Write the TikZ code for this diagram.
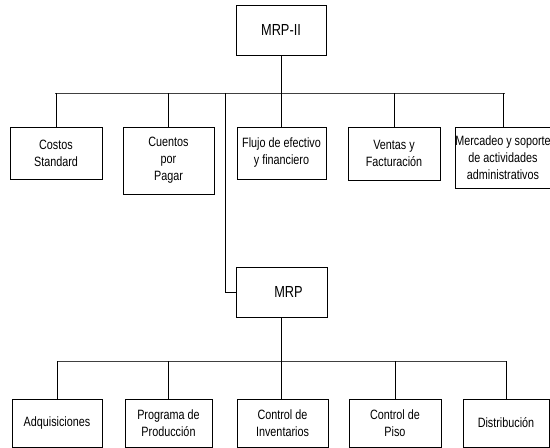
\documentclass[tikz,border=0pt]{standalone}
\usepackage{fontspec}
\setmainfont{Liberation Sans}[FakeStretch=0.8]
\begin{document}
\begin{tikzpicture}[x=1pt,y=-1pt,
  box/.style={draw=black, line width=1pt, inner sep=0pt, align=center,
    font=\fontsize{13.5}{17}\selectfont},
  bigbox/.style={box, font=\fontsize{16}{18}\selectfont},
  conn/.style={draw=black, line width=1pt},
  bus/.style={draw=black!75, line width=1pt}]
\useasboundingbox (0,0) rectangle (550,448);
\fill[white] (0,0) rectangle (550,448);
% top
\node[bigbox, minimum width=90pt, minimum height=50pt] (mrp2) at (281,30) {MRP-II};
% second row
\node[box, minimum width=92pt, minimum height=52pt] (costos) at (56,153) {Costos\\Standard};
\node[box, minimum width=91pt, minimum height=67pt] (cuentos) at (168.5,160.5) {Cuentos\\por\\Pagar};
\node[box, minimum width=89pt, minimum height=52pt] (flujo) at (281.5,153) {Flujo de efectivo\\y financiero};
\node[box, minimum width=92pt, minimum height=53pt] (ventas) at (394,153.5) {Ventas y\\Facturación};
\node[box, minimum width=92pt, minimum height=61pt] (merc) at (503,157.5) {Mercadeo y soporte\\de actividades\\administrativos};
% MRP
\node[bigbox, minimum width=91pt, minimum height=50pt] (mrp) at (281.5,292) {\hspace*{14pt}MRP};
% bottom row
\node[box, minimum width=90pt, minimum height=48pt] (adq) at (57,423) {Adquisiciones};
\node[box, minimum width=87pt, minimum height=48pt] (prog) at (168.5,423) {Programa de\\Producción};
\node[box, minimum width=91pt, minimum height=48pt] (inv) at (282.5,423) {Control de\\Inventarios};
\node[box, minimum width=92pt, minimum height=48pt] (piso) at (395,423) {Control de\\Piso};
\node[box, minimum width=86pt, minimum height=48pt] (dist) at (506,423) {Distribución};
% top bus
\coordinate (busA) at (55,93);
\coordinate (busB) at (505,93);
\coordinate (tap) at (225,93);
\path[bus] (busA) -- (busB);
\path[conn] (mrp2.south) -- (mrp2.south |- flujo.north);
\path[conn] (costos.north) -- (costos.north |- busA);
\path[conn] (cuentos.north) -- (cuentos.north |- busA);
\path[conn] (ventas.north) -- (ventas.north |- busA);
\path[conn] (merc.north) -- (merc.north |- busA);
\path[conn] (tap) |- (mrp.west);
% bottom bus
\coordinate (busC) at (57,361);
\coordinate (busD) at (507,361);
\path[bus] (busC) -- (busD);
\path[conn] (mrp.south) -- (mrp.south |- inv.north);
\path[conn] (adq.north) -- (adq.north |- busC);
\path[conn] (prog.north) -- (prog.north |- busC);
\path[conn] (piso.north) -- (piso.north |- busC);
\path[conn] (dist.north) -- (dist.north |- busC);
\end{tikzpicture}
\end{document}
